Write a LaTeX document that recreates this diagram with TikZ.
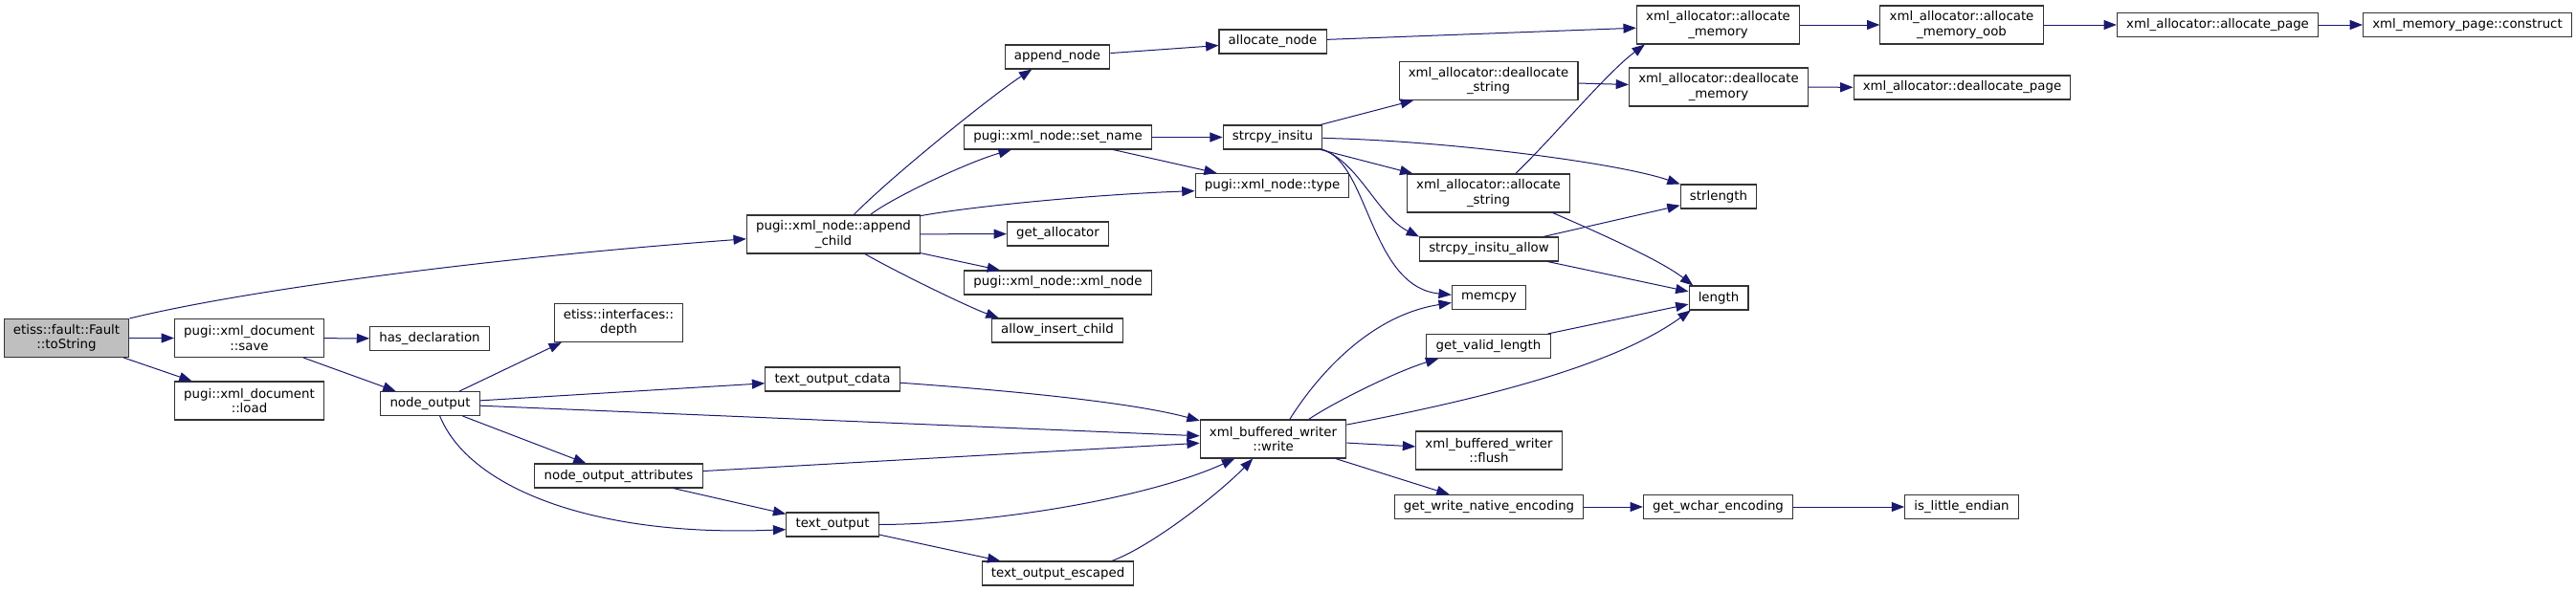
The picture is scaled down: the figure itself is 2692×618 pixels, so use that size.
\documentclass[tikz,border=0pt]{standalone}
\usepackage{fontspec}
\setmainfont{DejaVu Sans}
\usetikzlibrary{arrows.meta, positioning}
\definecolor{callblue}{RGB}{25, 25, 112}
\definecolor{rootgray}{RGB}{191, 191, 191}

\begin{document}
\begin{tikzpicture}[
    x=0.75pt, y=-0.75pt,
    >={Triangle[length=10pt, width=7.5pt]},
    line width=0.75pt,
    fnbox/.style={rectangle, draw=black!80, fill=white, line width=0.8pt, minimum height=18.75pt, inner xsep=7.3pt, inner ysep=2pt, align=center, font=\fontsize{10}{11.5}\selectfont},
    twoline/.style={fnbox, minimum height=30pt},
    rootbox/.style={twoline, fill=rootgray}
]
\useasboundingbox (0,0) rectangle (2692,618);

% callers on the left
\node[rootbox] (tostr) at (69.5,353.5) {etiss::fault::Fault\\::toString};
\node[twoline] (save) at (260.5,353.5) {pugi::xml\_document\\::save};
\node[twoline] (load) at (260.5,419) {pugi::xml\_document\\::load};
\node[fnbox] (hasdecl) at (449,354) {has\_declaration};
\node[fnbox] (nout) at (449.5,422) {node\_output};
\node[twoline] (depth) at (646.5,337.5) {etiss::interfaces::\\depth};
\node[fnbox] (nattr) at (646.5,497.5) {node\_output\_attributes};
\node[twoline] (append) at (871,245) {pugi::xml\_node::append\\\_child};
\node[fnbox] (tcdata) at (870,396.5) {text\_output\_cdata};
\node[fnbox] (tout) at (870,548.5) {text\_output};

% middle columns
\node[fnbox] (appnode) at (1105,59.5) {append\_node};
\node[fnbox] (setname) at (1105.5,143.5) {pugi::xml\_node::set\_name};
\node[fnbox] (getalloc) at (1105.5,244.5) {get\_allocator};
\node[fnbox] (xmlnode) at (1105.5,295.5) {pugi::xml\_node::xml\_node};
\node[fnbox] (allowins) at (1105,345.5) {allow\_insert\_child};
\node[fnbox] (tesc) at (1105.5,599.5) {text\_output\_escaped};
\node[fnbox] (allocnode) at (1330,43.5) {allocate\_node};
\node[fnbox] (strcpy) at (1330,143.5) {strcpy\_insitu};
\node[fnbox] (gettype) at (1329.5,194) {pugi::xml\_node::type};
\node[twoline] (write) at (1330.5,459) {xml\_buffered\_writer\\::write};

\node[twoline] (dealstr) at (1555.5,84.5) {xml\_allocator::deallocate\\\_string};
\node[twoline] (allocstr) at (1555.5,202) {xml\_allocator::allocate\\\_string};
\node[fnbox] (strallow) at (1556,260.5) {strcpy\_insitu\_allow};
\node[fnbox] (memcpy) at (1556,311) {memcpy};
\node[fnbox] (validlen) at (1555.5,362) {get\_valid\_length};
\node[twoline] (flush) at (1556,471) {xml\_buffered\_writer\\::flush};
\node[fnbox] (natenc) at (1556,530) {get\_write\_native\_encoding};

% right side
\node[twoline] (allocmem) at (1795.5,26) {xml\_allocator::allocate\\\_memory};
\node[twoline] (dealmem) at (1796,91) {xml\_allocator::deallocate\\\_memory};
\node[fnbox] (strlen) at (1796,205.5) {strlength};
\node[fnbox] (length) at (1796,311.5) {length};
\node[fnbox] (wcharenc) at (1795.5,530) {get\_wchar\_encoding};
\node[twoline] (allocoob) at (2050,26) {xml\_allocator::allocate\\\_memory\_oob};
\node[fnbox] (dealpage) at (2050.5,91.5) {xml\_allocator::deallocate\_page};
\node[fnbox] (littleend) at (2050,530) {is\_little\_endian};
\node[fnbox] (allocpage) at (2317.5,26) {xml\_allocator::allocate\_page};
\node[fnbox] (construct) at (2578.5,26) {xml\_memory\_page::construct};

% calls
\draw[->, callblue] (tostr.north east) .. controls (266,301) and (532,268) .. (append.183);
\draw[->, callblue] (tostr) -- (save);
\draw[->, callblue] (tostr) -- (load);
\draw[->, callblue] (save) -- (hasdecl);
\draw[->, callblue] (save) -- (nout);
\draw[->, callblue] (nout.23) -- (depth.199);
\draw[->, callblue] (nout) -- (tcdata);
\draw[->, callblue] (nout) -- (write);
\draw[->, callblue] (nout) -- (nattr);
\draw[->, callblue] (nout.-52) .. controls (490,510) and (620,562) .. (tout.186);
\draw[->, callblue] (tcdata.-3.5) .. controls (1050,408) and (1180,420) .. (write.166);
\draw[->, callblue] (nattr) -- (write);
\draw[->, callblue] (nattr) -- (tout);
\draw[->, callblue] (tout.east) .. controls (1040,548) and (1202,520) .. (write.207);
\draw[->, callblue] (tout) -- (tesc);
\draw[->, callblue] (tesc.13) .. controls (1204,571) and (1275,515) .. (write.224);

\draw[->, callblue] (append.44) .. controls (931,185) and (1035,101) .. (appnode.206);
\draw[->, callblue] (append.28) .. controls (930,208) and (1010,170) .. (setname.195);
\draw[->, callblue] (append.12) .. controls (1020,215) and (1150,203) .. (gettype.184);
\draw[->, callblue] (append) -- (getalloc);
\draw[->, callblue] (append) -- (xmlnode);
\draw[->, callblue] (append.-32) .. controls (938,285) and (1012,321) .. (allowins.168);
\draw[->, callblue] (appnode) -- (allocnode);
\draw[->, callblue] (allocnode) -- (allocmem);
\draw[->, callblue] (setname) -- (strcpy);
\draw[->, callblue] (setname) -- (gettype);

\draw[->, callblue] (strcpy) -- (dealstr);
\draw[->, callblue] (strcpy.-1) .. controls (1510,147) and (1690,170) .. (strlen.north west);
\draw[->, callblue] (strcpy) -- (allocstr);
\draw[->, callblue] (strcpy.south east) .. controls (1420,170) and (1440,226) .. (strallow.north west);
\draw[->, callblue] (strcpy.south east) .. controls (1430,170) and (1432,300) .. (memcpy.176);
\draw[->, callblue] (dealstr) -- (dealmem);
\draw[->, callblue] (dealmem) -- (dealpage);
\draw[->, callblue] (allocstr.36) .. controls (1623,144) and (1678,77) .. (allocmem.195);
\draw[->, callblue] (allocstr.-17) .. controls (1670,243) and (1735,272) .. (length.154);
\draw[->, callblue] (strallow) -- (strlen);
\draw[->, callblue] (strallow) -- (length);
\draw[->, callblue] (allocmem) -- (allocoob);
\draw[->, callblue] (allocoob) -- (allocpage);
\draw[->, callblue] (allocpage) -- (construct);

\draw[->, callblue] (write.50) .. controls (1375,395) and (1430,330) .. (memcpy.188);
\draw[->, callblue] (write.29) .. controls (1395,420) and (1460,388) .. (validlen.194);
\draw[->, callblue] (write.11) .. controls (1560,415) and (1690,380) .. (length.204);
\draw[->, callblue] (write) -- (flush);
\draw[->, callblue] (write) -- (natenc);
\draw[->, callblue] (validlen) -- (length);
\draw[->, callblue] (natenc) -- (wcharenc);
\draw[->, callblue] (wcharenc) -- (littleend);
\end{tikzpicture}
\end{document}
